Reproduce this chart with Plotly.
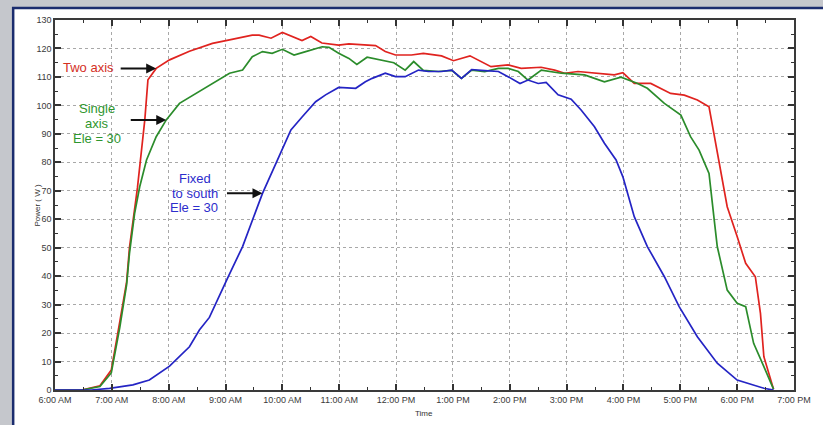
import plotly.graph_objects as go

# ---------------- data (hours of day, power in W) ----------------
time_two_axis = [6.0, 6.47, 6.79, 6.99, 7.14, 7.26, 7.31, 7.45, 7.58, 7.635, 7.78, 8.015, 8.365,
                 8.77, 9.07, 9.47, 9.59, 9.80, 10.0, 10.345, 10.50, 10.695, 10.99, 11.17, 11.64,
                 11.81, 11.99, 12.27, 12.48, 12.80, 13.01, 13.30, 13.67, 13.97, 14.20, 14.55,
                 14.79, 14.965, 15.20, 15.49, 15.84, 15.99, 16.19, 16.48, 16.83, 17.07, 17.30,
                 17.505, 17.59, 17.71, 17.825, 18.0, 18.15, 18.32, 18.41, 18.47, 18.64]
power_two_axis = [0, 0, 1.5, 7, 24, 38, 50, 71, 95, 109, 113, 116, 119,
                  121.8, 123, 124.7, 124.7, 123.6, 125.6, 122.8, 124.2, 121.9, 121.2, 121.6, 121.0,
                  118.9, 117.7, 117.7, 118.3, 117.4, 115.7, 117.4, 113.6, 114.2, 113.0, 113.4,
                  112.4, 111.3, 111.9, 111.3, 110.7, 111.5, 107.7, 107.7, 104.2, 103.6, 101.9,
                  99.5, 90.2, 77.3, 64.4, 53.9, 44.5, 39.8, 26.9, 11.7, 0.3]

time_single_axis = [6.0, 6.47, 6.79, 6.99, 7.14, 7.26, 7.31, 7.40, 7.49, 7.61, 7.78, 7.957, 8.19,
                    8.48, 8.77, 9.07, 9.30, 9.47, 9.65, 9.82, 10.0, 10.205, 10.41, 10.70, 10.82,
                    10.99, 11.17, 11.31, 11.49, 11.69, 11.96, 12.16, 12.31, 12.48, 12.745, 12.98,
                    13.15, 13.33, 13.56, 13.80, 13.97, 14.15, 14.32, 14.555, 14.905, 15.315,
                    15.665, 15.956, 16.25, 16.42, 16.72, 17.01, 17.18, 17.33, 17.505, 17.59,
                    17.65, 17.825, 18.0, 18.15, 18.29, 18.47, 18.64]
power_single_axis = [0, 0, 1.2, 6, 22, 37, 48, 62, 71.4, 80.8, 89, 94.9, 100.7,
                     104.2, 107.7, 111.3, 112.4, 117.1, 118.9, 118.3, 119.7, 117.7, 118.9, 120.6, 120.4,
                     118.3, 116.5, 114.4, 116.9, 116, 115, 112.4, 115.4, 112.3, 111.9, 112.3,
                     109.5, 112.4, 111.9, 113, 113, 111.9, 108.9, 112.4, 111.3, 110.7,
                     108.3, 109.9, 107.7, 106, 100.7, 96.6, 89, 84.3, 76.1, 60.9,
                     50.4, 35.1, 30.5, 29.3, 16.4, 8.2, 0.3]

time_fixed_south = [6.0, 6.64, 6.96, 7.37, 7.66, 8.015, 8.365, 8.54, 8.716, 8.83, 9.04, 9.30,
                    9.65, 9.94, 10.15, 10.35, 10.585, 10.76, 10.99, 11.29, 11.46, 11.58, 11.81,
                    11.99, 12.16, 12.395, 12.57, 12.80, 12.98, 13.15, 13.33, 13.50, 13.80, 13.97,
                    14.18, 14.32, 14.50, 14.64, 14.85, 15.08, 15.255, 15.49, 15.665, 15.87, 15.99,
                    16.19, 16.42, 16.72, 16.98, 17.30, 17.65, 18.0, 18.47, 18.64]
power_fixed_south = [0, 0, 0.6, 1.8, 3.5, 8.4, 15.2, 21.1, 25.5, 30.5, 39.5, 50.4,
                     69.1, 82, 91.4, 96, 101.3, 103.7, 106.3, 106, 108.3, 109.5, 111.3,
                     110.1, 110.1, 112.4, 111.9, 111.9, 112.4, 109.5, 112.6, 112.3, 111.9, 110.1,
                     107.7, 108.9, 107.7, 108.1, 103.7, 102.2, 98.4, 92.5, 86.7, 80.8, 74.9,
                     60.9, 50.4, 39.8, 29.3, 18.7, 9.4, 3.5, 0.6, 0]

tick_hours = [6, 7, 8, 9, 10, 11, 12, 13, 14, 15, 16, 17, 18, 19]
tick_labels = ["6:00 AM", "7:00 AM", "8:00 AM", "9:00 AM", "10:00 AM", "11:00 AM", "12:00 PM",
               "1:00 PM", "2:00 PM", "3:00 PM", "4:00 PM", "5:00 PM", "6:00 PM", "7:00 PM"]

RED, GREEN, BLUE = "#e0231f", "#2b8c2b", "#2424c4"

# plot-area geometry (pixels) used to place free text
L, R, T, B = 55, 797, 20, 390
W, H = 823, 425


def px(xp):
    return (xp - L) / (R - L)


def py(yp):
    return (B - yp) / (B - T)


def near(times, powers, t0):
    i = min(range(len(times)), key=lambda k: abs(times[k] - t0))
    return times[i], powers[i]


fig = go.Figure()
for t, p, c, n in [(time_two_axis, power_two_axis, RED, "Two axis"),
                   (time_single_axis, power_single_axis, GREEN, "Single axis"),
                   (time_fixed_south, power_fixed_south, BLUE, "Fixed to south")]:
    fig.add_trace(go.Scatter(x=t, y=p, mode="lines", name=n, showlegend=False,
                             line=dict(color=c, width=1.7)))

font_fam = "Liberation Sans, Arial, sans-serif"
ann = []


def label(text, xp, yp, color, size=13):
    ann.append(dict(text=text, xref="paper", yref="paper", x=px(xp), y=py(yp),
                    showarrow=False, font=dict(family=font_fam, size=size, color=color),
                    xanchor="center", yanchor="middle"))


label("Two axis", 89, 67, "#d4301f")
label("Single", 97, 108, "#2e962e")
label("axis", 97, 123, "#2e962e")
label("Ele = 30", 97, 138, "#2e962e")
label("Fixed", 196, 178, "#2d2dcc")
label("to south", 196, 193, "#2d2dcc")
label("Ele = 30", 195, 208, "#2d2dcc")

for times, powers, t0 in [(time_two_axis, power_two_axis, 7.78),
                          (time_single_axis, power_single_axis, 7.957),
                          (time_fixed_south, power_fixed_south, 9.65)]:
    hx, hy = near(times, powers, t0)
    ann.append(dict(x=hx, y=hy, xref="x", yref="y", text="", showarrow=True,
                    ax=-37, ay=0, arrowhead=2, arrowsize=1, arrowwidth=2, arrowcolor="#111"))

ann.append(dict(text="Power ( W )", xref="paper", yref="paper", x=px(30), y=py(205),
                textangle=-90, showarrow=False,
                font=dict(family=font_fam, size=8, color="#333")))
ann.append(dict(text="Time", xref="paper", yref="paper", x=px(425), y=py(420),
                showarrow=False, font=dict(family=font_fam, size=8, color="#333")))

axis_common = dict(showline=True, linecolor="#3a3a3a", linewidth=1.5, mirror="allticks",
                   ticks="inside", ticklen=6, tickwidth=1.5, tickcolor="#333",
                   showgrid=True, gridcolor="#a8a8a8", griddash="dot", gridwidth=1,
                   zeroline=False, tickfont=dict(family=font_fam, size=9, color="#3a3a3a"))

fig.update_layout(
    width=W, height=H,
    margin=dict(l=L, r=W - R, t=T, b=H - B, pad=0),
    paper_bgcolor="#c5c7cc",
    plot_bgcolor="white",
    annotations=ann,
    shapes=[dict(type="rect", xref="paper", yref="paper", layer="below",
                 x0=px(13), x1=px(840), y0=py(440), y1=py(8),
                 fillcolor="white", line=dict(color="#1b2c6e", width=2.5))],
    xaxis=dict(range=[6, 19], tickmode="array", tickvals=tick_hours, ticktext=tick_labels,
               minor=dict(ticks="inside", ticklen=3, tickwidth=1.2, tickcolor="#333",
                          tickmode="linear", tick0=6, dtick=0.5, showgrid=False),
               **axis_common),
    yaxis=dict(range=[0, 130], tickmode="linear", tick0=0, dtick=10,
               minor=dict(ticks="inside", ticklen=3, tickwidth=1.2, tickcolor="#333",
                          tickmode="linear", tick0=0, dtick=5, showgrid=False),
               **axis_common),
)

fig.write_html("out.html",
               config={"displayModeBar": False},
               post_script="document.body.style.margin='0';document.body.style.padding='0';"
                           "document.body.style.overflow='hidden';")
